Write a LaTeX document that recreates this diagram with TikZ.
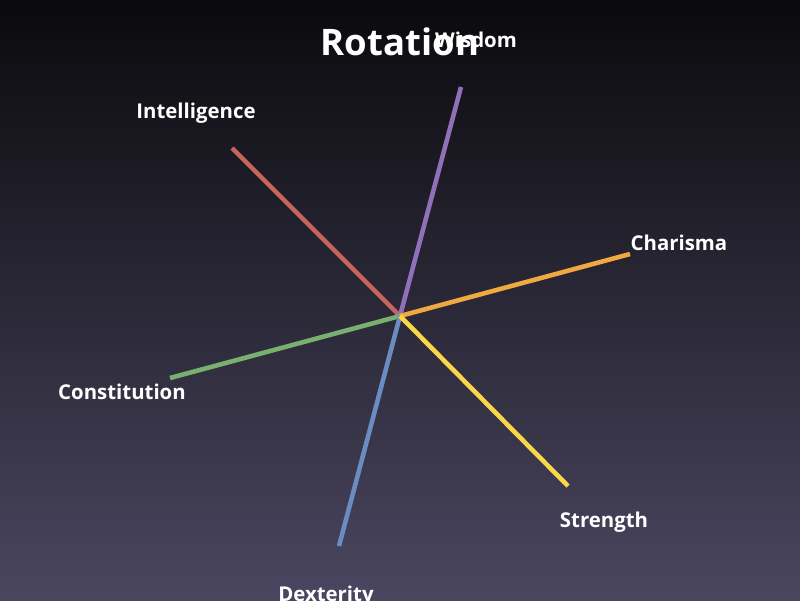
\documentclass[tikz,border=0pt]{standalone}
\usepackage{fontspec}
\setmainfont{Open Sans}
\usepackage{xcolor}
\usetikzlibrary{positioning}

\definecolor{bgtop}{HTML}{0A0A0D}
\definecolor{bgbottom}{HTML}{4A4660}
\definecolor{intred}{HTML}{C8645E}
\definecolor{wispurple}{HTML}{9070B8}
\definecolor{chaorange}{HTML}{F0A840}
\definecolor{congreen}{HTML}{78B070}
\definecolor{dexblue}{HTML}{6A8CC0}
\definecolor{stryellow}{HTML}{F8D848}

\begin{document}
\begin{tikzpicture}[
        x=0.02cm, y=-0.02cm,
        axis/.style={line width=2.6pt},
        attr/.style={text=white, font=\bfseries\fontsize{11.6}{13}\selectfont},
        title/.style={text=white, font=\bfseries\fontsize{20.8}{24}\selectfont}
    ]

        % background
        \shade[top color=bgtop, bottom color=bgbottom] (0,0) rectangle (800,600);
        \useasboundingbox (0,0) rectangle (800,600);

        \coordinate (Center) at (400,316);

        \coordinate (WisEnd) at (461,87);
        \coordinate (IntEnd) at (232,148);
        \coordinate (ChaEnd) at (630,254);
        \coordinate (ConEnd) at (170,378);
        \coordinate (StrEnd) at (568,486);
        \coordinate (DexEnd) at (339,546);

        \draw[axis, intred] (Center) -- (IntEnd);
        \draw[axis, wispurple] (Center) -- (WisEnd);
        \draw[axis, congreen] (Center) -- (ConEnd);
        \draw[axis, dexblue] (Center) -- (DexEnd);
        \draw[axis, chaorange] (Center) -- (ChaEnd);
        \draw[axis, stryellow] (Center) -- (StrEnd);

        \node[title] (Title) at (400,42) {Rotation};

        \node[attr] (Wisdom) at (476,40) {Wisdom};
        \node[attr] (Intelligence) at (196,113) {Intelligence};
        \node[attr] (Charisma) at (679,243) {Charisma};
        \node[attr] (Constitution) at (122,392) {Constitution};
        \node[attr] (Strength) at (604,522) {Strength};
        \node[attr] (Dexterity) at (326,596) {Dexterity};

    \end{tikzpicture}
\end{document}
